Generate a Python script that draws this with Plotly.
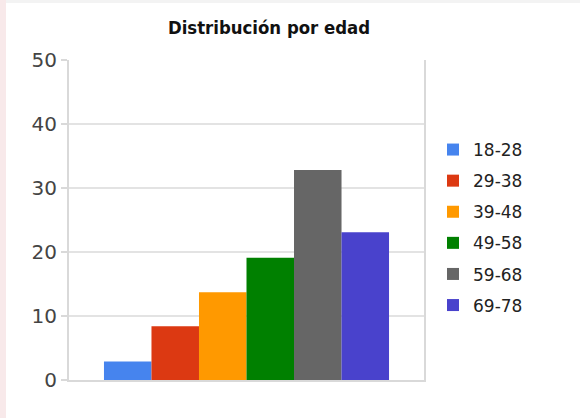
import plotly.graph_objects as go

title = "Distribución por edad"
groups = ["18-28", "29-38", "39-48", "49-58", "59-68", "69-78"]
values = [2.9, 8.4, 13.7, 19.1, 32.8, 23.1]
colors = ["#4684ee", "#dc3912", "#ff9900", "#008000", "#666666", "#4942cc"]
category = [""]
y_ticks = [0, 10, 20, 30, 40, 50]

W, H = 580, 418
ML, MR, MT, MB = 69, 156, 60, 38
PW = W - ML - MR
PH = H - MT - MB

fig = go.Figure()
for g, v, c in zip(groups, values, colors):
    fig.add_trace(go.Bar(
        x=category, y=[v], name=g, marker=dict(color=c, line=dict(width=0)),
        legendgroup=g, hoverinfo="name+y",
    ))

fig.update_layout(
    width=W, height=H,
    margin=dict(l=ML, r=MR, t=MT, b=MB, pad=0, autoexpand=False),
    paper_bgcolor="white", plot_bgcolor="white",
    barmode="group", bargap=0.197, bargroupgap=0,
    font=dict(family="DejaVu Sans", color="#222222"),
    title=dict(text=title, x=269 / W, xref="container", xanchor="center",
               y=1 - 28 / H, yref="container", yanchor="middle",
               font=dict(family="DejaVu Sans Condensed", size=18.4, color="#111111", weight="bold")),
    showlegend=True,
    legend=dict(x=(433 - ML) / PW, xanchor="left", y=(H - MB - 132) / PH, yanchor="top",
                yref="paper",
                font=dict(size=17, color="#222222"), traceorder="grouped",
                tracegroupgap=6, bgcolor="rgba(0,0,0,0)", borderwidth=0),
    xaxis=dict(showticklabels=False, showgrid=False, showline=True, linecolor="#d9d9d9",
               linewidth=2, mirror=False, ticks="", zeroline=False, fixedrange=True),
    yaxis=dict(range=[0, 50], tickvals=y_ticks, showgrid=True, gridcolor="#e3e3e3",
               gridwidth=2, showline=True, linecolor="#d9d9d9", linewidth=2, mirror=True,
               ticks="outside", ticklen=6, tickcolor="#d9d9d9", tickwidth=2,
               tickfont=dict(size=20, color="#444444"), zeroline=False, fixedrange=True),
    shapes=[
        dict(type="rect", xref="paper", yref="paper", x0=(0 - ML) / PW, x1=(6 - ML) / PW,
             y0=-MB / PH, y1=1 + MT / PH,
             fillcolor="#f8e9ea", line=dict(width=0), layer="below"),
        dict(type="rect", xref="paper", yref="paper", x0=(6 - ML) / PW, x1=(W - ML) / PW,
             y0=1 + (MT - 3) / PH, y1=1 + MT / PH,
             fillcolor="#f3f3f3", line=dict(width=0), layer="below"),
    ],
)
fig.write_html("out.html", config={"displayModeBar": False},
               post_script="document.body.style.margin='0';")
